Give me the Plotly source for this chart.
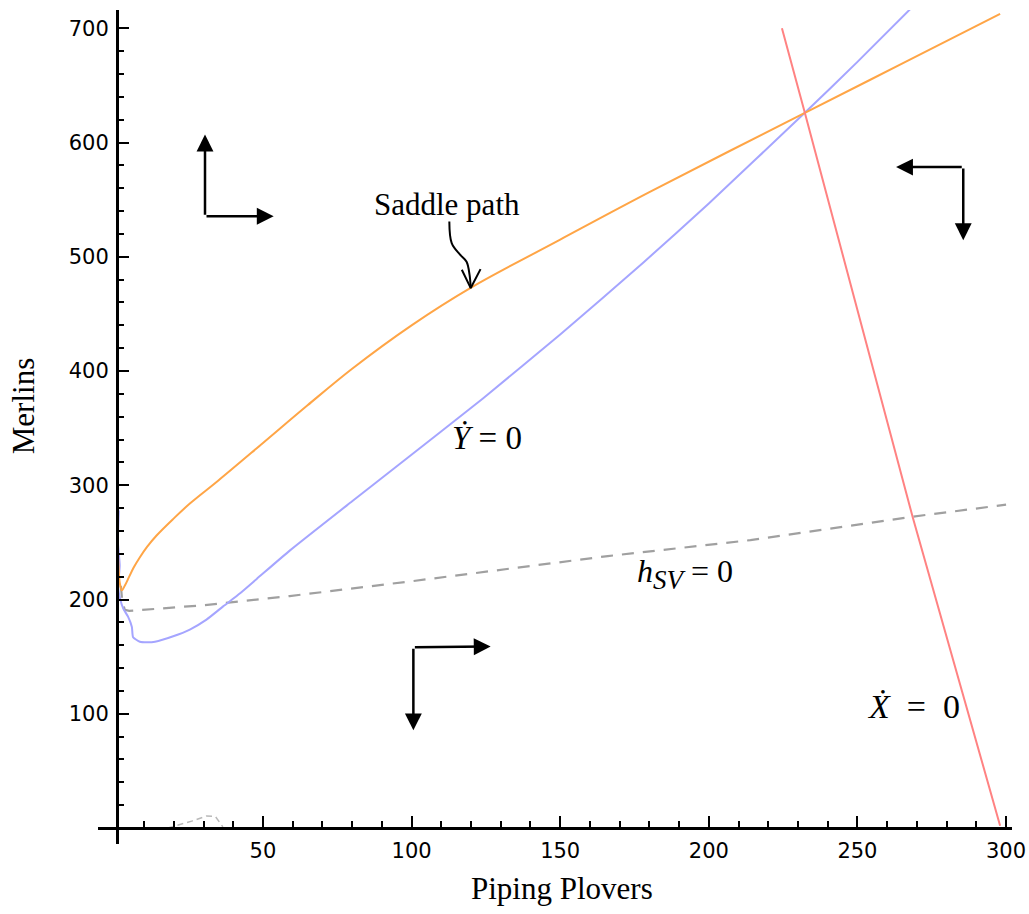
import plotly.graph_objects as go

# ---------------- data ----------------
saddle_x = [1.0, 1.3, 1.8, 2.5, 3.5, 5.0, 6.5, 8.6, 11, 14.2, 20, 25.4, 34.9, 50, 65, 80, 100, 120, 150, 180, 232.3, 265, 298]
saddle_y = [252, 235, 215, 208, 212, 220, 228, 237, 246, 256, 271, 284, 304, 337, 370, 402, 440, 473, 515, 556.5, 626, 669, 712.6]

ydot_x = [1.5, 1.2, 1.8, 1.3, 2.0, 3.0, 4.6, 5.9, 6.3, 8.6, 11, 13.7, 19.8, 25.4, 31, 36.6, 42.3, 47.9, 59.1, 80, 96, 124, 150, 178, 200, 232.3, 250, 270]
ydot_y = [278, 250, 230, 210, 200, 192, 185, 176, 167, 163, 162.5, 163, 167.8, 173.7, 182.4, 194, 205.5, 218, 243, 286, 318.6, 376, 432, 495, 546.7, 626, 670.6, 722.6]

xdot_x = [224.6, 232.3, 268.6, 298]
xdot_y = [700, 626, 272, 2]

hsv_x = [2.2, 2.6, 3.5, 5, 30, 59, 100, 166, 214, 268.5, 300]
hsv_y = [212, 200, 191, 190, 195, 203, 216, 238, 252, 272.5, 283]

hsv_branch_x = [18, 26, 31, 34, 36.5]
hsv_branch_y = [0, 6, 10.5, 10, 1]

x_ticks = [50, 100, 150, 200, 250, 300]
y_ticks = [100, 200, 300, 400, 500, 600, 700]
x_minor = [v for v in range(10, 301, 10) if v % 50 != 0]
y_minor = [v for v in range(20, 701, 20) if v % 100 != 0]

X_RANGE = [-5.5, 302]
Y_RANGE = [-14, 716]
Y_AXIS_AT = 0.8
X_AXIS_AT = 0

fig = go.Figure()

fig.add_trace(go.Scatter(x=hsv_x, y=hsv_y, mode="lines",
                         line=dict(color="rgb(160,160,160)", width=2.2, dash="12px,9px")))
fig.add_trace(go.Scatter(x=hsv_branch_x, y=hsv_branch_y, mode="lines",
                         line=dict(color="rgb(185,185,185)", width=1.5, dash="6px,4px")))
fig.add_trace(go.Scatter(x=ydot_x, y=ydot_y, mode="lines", line_shape="spline",
                         line=dict(color="rgb(165,165,255)", width=2, smoothing=0.5)))
fig.add_trace(go.Scatter(x=saddle_x, y=saddle_y, mode="lines", line_shape="spline",
                         line=dict(color="rgb(255,165,70)", width=2)))
fig.add_trace(go.Scatter(x=xdot_x, y=xdot_y, mode="lines",
                         line=dict(color="rgb(255,130,130)", width=2)))

# curly "saddle path" pointer (annotation, given in data coords)
curl_x = [112.7, 113.5, 116.3, 118.5, 119.5, 119.9]
curl_y = [530.9, 512.0, 501.8, 495.6, 484.3, 472.6]
fig.add_trace(go.Scatter(x=curl_x, y=curl_y, mode="lines", line_shape="spline",
                         line=dict(color="black", width=2)))
fig.add_trace(go.Scatter(x=[116.9, 119.9, 123.2], y=[488.6, 472.6, 489.2], mode="lines",
                         line=dict(color="black", width=2)))

# direction arrows: (corner, tip) pairs
arrows = [
    ((30.5, 535.5), (30.5, 607)),
    ((30.5, 535.5), (53.6, 535.5)),
    ((285.6, 578.5), (263.0, 578.5)),
    ((285.6, 578.5), (285.6, 514.5)),
    ((100.6, 158.2), (126.6, 158.8)),
    ((100.6, 158.2), (100.6, 85.5)),
]
annotations = []
for (cx, cy), (tx, ty) in arrows:
    annotations.append(dict(x=tx, y=ty, ax=cx, ay=cy, xref="x", yref="y", axref="x", ayref="y",
                            text="", showarrow=True, arrowhead=2, arrowsize=1.35, arrowwidth=2.5,
                            arrowcolor="black", standoff=0))

serif = "Liberation Serif"
nb = "\u00a0"
annotations += [
    dict(x=111.9, y=545.5, xref="x", yref="y", text="Saddle path", showarrow=False,
         xanchor="center", yanchor="middle",
         font=dict(family=serif, size=31, color="black")),
    dict(x=125.4, y=341.8, xref="x", yref="y", text="<i>Ẏ</i> = 0", showarrow=False,
         xanchor="center", yanchor="middle",
         font=dict(family=serif, size=33, color="black")),
    dict(x=192.0, y=222, xref="x", yref="y",
         text="<i>h</i><sub><span style='font-size:27px'><i>SV</i></span></sub> = 0", showarrow=False,
         xanchor="center", yanchor="middle",
         font=dict(family=serif, size=32, color="black")),
    dict(x=269.0, y=106.3, xref="x", yref="y", text="<i>Ẋ</i>" + nb * 2 + "=" + nb * 2 + "0", showarrow=False,
         xanchor="center", yanchor="middle",
         font=dict(family=serif, size=34, color="black")),
    dict(x=0.508, y=-0.053, xref="paper", yref="paper", text="Piping Plovers", showarrow=False,
         xanchor="center", yanchor="middle",
         font=dict(family=serif, size=31, color="black")),
    dict(x=-0.082, y=0.525, xref="paper", yref="paper", text="Merlins", showarrow=False, textangle=-90,
         xanchor="center", yanchor="middle",
         font=dict(family=serif, size=31, color="black")),
]

tickfont = dict(family="DejaVu Sans", size=21, color="black")
fig.update_layout(
    width=1029, height=914,
    margin=dict(l=98, r=17, t=10, b=70),
    plot_bgcolor="white", paper_bgcolor="white",
    showlegend=False,
    annotations=annotations,
    xaxis=dict(range=X_RANGE, showgrid=False, zeroline=False, showline=True, linecolor="black",
               linewidth=2.5, anchor="free", automargin=False,
               position=(X_AXIS_AT - Y_RANGE[0]) / (Y_RANGE[1] - Y_RANGE[0]),
               tickmode="array", tickvals=x_ticks, ticktext=[str(v) for v in x_ticks],
               ticks="inside", ticklen=11, tickwidth=2, tickcolor="black", tickfont=tickfont,
               ticklabelstandoff=3,
               minor=dict(tickmode="array", tickvals=x_minor, ticks="inside", ticklen=6,
                          tickwidth=2, tickcolor="black")),
    yaxis=dict(range=Y_RANGE, showgrid=False, zeroline=False, showline=True, linecolor="black",
               linewidth=2.5, anchor="free", automargin=False,
               position=(Y_AXIS_AT - X_RANGE[0]) / (X_RANGE[1] - X_RANGE[0]),
               tickmode="array", tickvals=y_ticks, ticktext=[str(v) for v in y_ticks],
               ticks="inside", ticklen=11, tickwidth=2, tickcolor="black", tickfont=tickfont,
               ticklabelstandoff=3,
               minor=dict(tickmode="array", tickvals=y_minor, ticks="inside", ticklen=6,
                          tickwidth=2, tickcolor="black")),
)

fig.write_html("out.html")
